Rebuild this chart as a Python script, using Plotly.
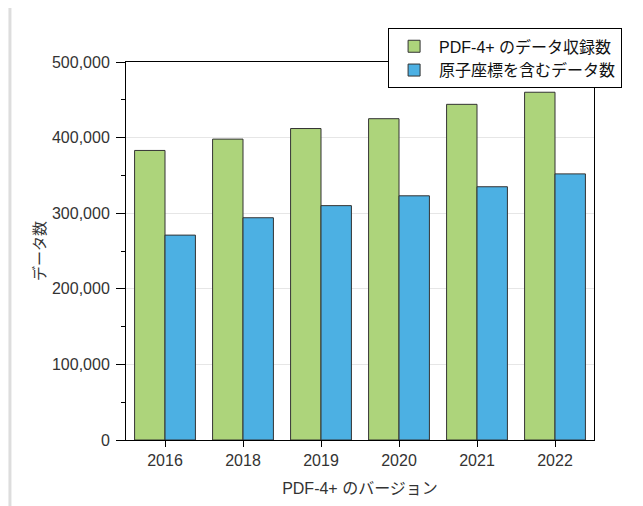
import plotly.graph_objects as go

versions = ["2016", "2018", "2019", "2020", "2021", "2022"]
total_counts = [383000, 398000, 412000, 425000, 444000, 460000]
atomic_counts = [271000, 294000, 310000, 323000, 335000, 352000]
series_names = ["PDF-4+ のデータ収録数", "原子座標を含むデータ数"]

FONT = "Liberation Sans, Arial, Noto Sans CJK JP, sans-serif"

fig = go.Figure()
fig.add_trace(go.Bar(x=versions, y=total_counts, name=series_names[0],
                     marker=dict(color="#ADD47B", line=dict(color="#333333", width=1))))
fig.add_trace(go.Bar(x=versions, y=atomic_counts, name=series_names[1],
                     marker=dict(color="#4CB0E3", line=dict(color="#333333", width=1))))

# page body adds an 8px offset, so sizes are reduced accordingly
fig.update_layout(
    width=635, height=498,
    margin=dict(l=118, r=49, t=54, b=62),
    paper_bgcolor="white", plot_bgcolor="white",
    barmode="group", bargap=0.22, bargroupgap=0,
    font=dict(family=FONT, size=16, color="#333333"),
    showlegend=True,
    legend=dict(x=0.56, y=1.089, xanchor="left", yanchor="top",
                bgcolor="white", bordercolor="black", borderwidth=1,
                font=dict(size=16, color="#111111"),
                tracegroupgap=0, itemwidth=40),
    xaxis=dict(
        type="category", range=[-0.5, 5.5],
        showline=True, linecolor="black", linewidth=1, mirror=True,
        ticks="outside", ticklen=6, tickcolor="black",
        showgrid=False,
        title=dict(text="PDF-4+ のバージョン", font=dict(size=16), standoff=14),
        tickfont=dict(size=16),
    ),
    yaxis=dict(
        range=[0, 500000], dtick=100000, tickformat=",",
        showline=True, linecolor="black", linewidth=1, mirror=True,
        ticks="outside", ticklen=9, tickcolor="black",
        ticklabelstandoff=3,
        minor=dict(dtick=50000, ticks="outside", ticklen=4, tickcolor="black", showgrid=False),
        showgrid=True, gridcolor="#E6E6E6", gridwidth=1,
        zeroline=False,
        title=dict(text="データ数", font=dict(size=15), standoff=2),
        tickfont=dict(size=16),
    ),
)

fig.add_shape(type="line", xref="paper", yref="paper",
              x0=-0.248, x1=-0.248, y0=-0.2, y1=1.2,
              line=dict(color="#DDDDDD", width=3))

fig.write_html("out.html")
